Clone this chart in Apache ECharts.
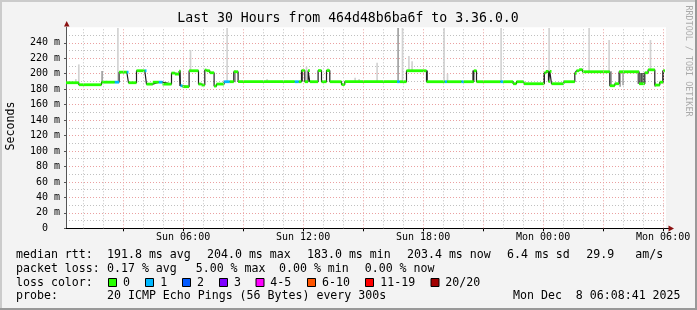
<!DOCTYPE html>
<html><head><meta charset="utf-8">
<script src="https://cdn.jsdelivr.net/npm/echarts@6/dist/echarts.min.js"></script>
<style>html,body{margin:0;padding:0;background:#f3f3f3}#c{width:697px;height:310px}</style>
</head><body><div id="c"></div>
<script>
// x values are hours since Sun 00:00
const tStart = 0.145, tEnd = 30.145, medEnd = 30.085;
const xLabelHours = [6, 12, 18, 24, 30];
const xLabelText = ['Sun 06:00', 'Sun 12:00', 'Sun 18:00', 'Mon 00:00', 'Mon 06:00'];
const majorHours = [3, 6, 9, 12, 15, 18, 21, 24, 27, 30];
const minorHours = [1, 2, 4, 5, 7, 8, 10, 11, 13, 14, 16, 17, 19, 20, 22, 23, 25, 26, 28, 29];

// median rtt (ms) step segments: start hour, value, loss level index
const medT = [0.145, 0.785, 1.92, 2.585, 2.8, 3.185, 3.27, 3.67, 4.085, 4.17,
  4.485, 4.785, 4.97, 5.42, 5.585, 5.8, 5.87, 5.97, 6.3, 6.77,
  6.92, 7.085, 7.17, 7.335, 7.55, 7.67, 8.05, 8.335, 8.535, 8.75,
  11.585, 11.785, 11.92, 12.085, 12.25, 12.335, 12.75, 12.92, 13.17, 13.335,
  13.92, 14.085, 16.7, 16.835, 17.17, 18.17, 19.085, 19.2, 19.92, 20.035,
  20.535, 20.67, 21.87, 22.0, 22.5, 22.67, 23.035, 24.06, 24.135, 24.27,
  24.335, 24.42, 25.035, 25.585, 25.67, 25.8, 25.97, 27.335, 27.585, 27.8,
  28.8, 29.085, 29.25, 29.585, 29.835, 30.0];
const medV = [188.3, 185.7, 189, 189, 202, 202, 188.3, 203.8, 203.8, 186.5,
  189, 189, 186.5, 200.8, 199.5, 203.4, 184.4, 183.2, 203.8, 186.6,
  185.3, 204.7, 203.8, 201.2, 184, 186.6, 189.6, 189.6, 202.5, 189.6,
  189.6, 189.6, 204, 189.6, 204, 189.6, 204, 189.6, 204, 189.6,
  186, 189.6, 189.6, 189.6, 203.8, 189.6, 189.6, 189.6, 189.6, 189.6,
  203.8, 189.6, 189.6, 189.6, 187, 189.6, 187, 201, 203, 189.6,
  203, 187, 189.6, 200.4, 203.8, 205.2, 202.5, 184.4, 187, 202.5,
  187, 201.2, 205, 185.3, 189, 203.8];
const medLoss = [0,0,0,1,0,1,0,0,1,0,
  0,1,0,0,0,0,1,0,0,0,
  0,0,0,0,0,0,1,0,0,0,
  1,0,0,0,0,0,0,0,0,0,
  0,0,1,0,0,0,1,0,1,0,
  0,0,1,0,0,0,0,0,0,0,
  0,0,0,0,0,0,0,0,0,0,
  0,0,0,0,0,0];

// smoke (ping spread) per 5-minute step: hour, low, high, shade index
const smokeT  = [0.635, 0.785, 1.95, 2.17, 2.74, 5.85, 6.37, 8.2, 8.6, 10.2,
  11.2, 11.95, 12.17, 13.25, 14.6, 14.8, 15.2, 15.7, 16.25, 16.75,
  16.97, 17.29, 17.45, 18.2, 19.05, 19.22, 19.92, 20.5, 21.9, 24.05,
  24.3, 26.3, 27.3, 27.4, 27.85, 28.0, 28.75, 28.9, 29.0, 29.37,
  29.6, 30.0];
const smokeLo = [188, 188, 189, 189, 189, 184, 204, 189, 189, 189,
  189, 190, 190, 204, 189, 189, 189, 189, 189, 189,
  189, 204, 204, 190, 189, 189, 189, 190, 189, 187,
  189, 203, 203, 183, 183, 185, 187, 187, 187, 205,
  183, 189];
const smokeHi = [193, 212, 203.4, 191, 259, 204, 230.6, 259, 204, 193,
  191, 204, 209, 207, 194.8, 193, 191, 214, 191, 259,
  259, 223, 216, 204, 259, 200, 191, 204, 259, 201,
  259, 259, 243.5, 203, 203, 202.5, 202.5, 201, 201, 243.5,
  189, 204];
const smokeShade = [0, 0, 1, 0, 0, 2, 0, 0, 1, 0,
  0, 2, 0, 0, 0, 0, 0, 0, 0, 1,
  0, 0, 0, 2, 0, 0, 0, 2, 0, 2,
  0, 0, 0, 1, 1, 1, 1, 2, 2, 0,
  1, 2];

const yMax = 260;
const lossColors = ['#26ff00', '#00b8ff', '#0059ff', '#7e00ff', '#ff00ff', '#ff5500', '#ff0000', '#a10000'];
const lossLabels = ['0', '1', '2', '3', '4-5', '6-10', '11-19', '20/20'];
const rttStats = ['191.8 ms avg', '204.0 ms max', '183.0 ms min', '203.4 ms now', '6.4 ms sd', '29.9', 'am/s'];
const lossStats = ['0.17 % avg', '5.00 % max', '0.00 % min', '0.00 % now'];
const probeText = '20 ICMP Echo Pings (56 Bytes) every 300s';
const stampText = 'Mon Dec  8 06:08:41 2025';
const titleText = 'Last 30 Hours from 464d48b6ba6f to 3.36.0.0';

const FONT = 'DejaVu Sans Mono';
const smokeColors = ['#d2d2d2', '#a0a0a0', '#444444'];
const stepH = 1 / 12;

const medData = medT.map((t, i) => [t, medV[i]]);
medData.push([medEnd, medV[medV.length - 1]]);
const bandData = medT.map((t, i) => [t, i + 1 < medT.length ? medT[i + 1] : medEnd, medV[i], medLoss[i]]);
const smokeData = smokeT.map((t, i) => [t, smokeLo[i], smokeHi[i], smokeShade[i]]);

function txt(x, y, s, size, extra) {
  return Object.assign({
    type: 'text', x: x, y: y, silent: true,
    style: Object.assign({
      text: s, fill: '#000', fontSize: size, fontFamily: FONT,
      align: 'left', verticalAlign: 'middle', textAlign: 'left', textVerticalAlign: 'middle'
    }, (extra && extra.style) || {})
  }, (extra && extra.el) || {});
}

const graphics = [];
// frame shading
graphics.push({type: 'rect', shape: {x: 0, y: 0, width: 697, height: 2}, style: {fill: '#cbcbcb'}, silent: true});
graphics.push({type: 'rect', shape: {x: 0, y: 0, width: 2, height: 310}, style: {fill: '#cbcbcb'}, silent: true});
graphics.push({type: 'rect', shape: {x: 695, y: 0, width: 2, height: 310}, style: {fill: '#999999'}, silent: true});
graphics.push({type: 'rect', shape: {x: 0, y: 308, width: 697, height: 2}, style: {fill: '#999999'}, silent: true});
// title
graphics.push(txt(348, 19, titleText, 13.2, {style: {align: 'center', textAlign: 'center'}}));
// y name
graphics.push(txt(10.5, 126, 'Seconds', 11.6, {style: {align: 'center', textAlign: 'center'}, el: {rotation: Math.PI / 2}}));
// watermark
graphics.push(txt(688, 61, 'RRDTOOL / TOBI OETIKER', 8.4, {style: {align: 'center', textAlign: 'center', fill: '#aaaaaa'}, el: {rotation: -Math.PI / 2}}));
// arrows
graphics.push({type: 'polygon', shape: {points: [[64, 26.5], [69.5, 26.5], [66.7, 21]]}, style: {fill: '#8b1111'}, silent: true, z: 10});
graphics.push({type: 'line', shape: {x1: 666, y1: 228.5, x2: 669, y2: 228.5}, style: {stroke: '#000', lineWidth: 1}, silent: true});
graphics.push({type: 'polygon', shape: {points: [[668.5, 225.5], [668.5, 231.5], [674, 228.5]]}, style: {fill: '#8b1111'}, silent: true, z: 10});
// legend lines
const L1 = 255, L2 = 268.5, L3 = 282.5, L4 = 296;
graphics.push(txt(16, L1, 'median rtt:', 11.6));
const rttX = [107, 207, 307, 407, 507, 586.3, 635.3];
rttStats.forEach((s, i) => graphics.push(txt(rttX[i], L1, s, 11.6)));
graphics.push(txt(16, L2, 'packet loss:', 11.6));
const lossX = [107, 195.7, 279, 364.7];
lossStats.forEach((s, i) => graphics.push(txt(lossX[i], L2, s, 11.6)));
graphics.push(txt(16, L3, 'loss color:', 11.6));
const boxX = [108.5, 145.5, 182.5, 219.5, 256, 307.5, 365.5, 431];
const lblX = [123, 160.3, 197, 234, 270.3, 322, 380.3, 445.3];
lossColors.forEach((c, i) => {
  graphics.push({type: 'rect', shape: {x: boxX[i], y: L3 - 4, width: 8, height: 8}, style: {fill: c, stroke: '#000', lineWidth: 1}, silent: true});
  graphics.push(txt(lblX[i], L3, lossLabels[i], 11.6));
});
graphics.push(txt(16, L4, 'probe:', 11.6));
graphics.push(txt(107, L4, probeText, 11.6));
graphics.push(txt(513, L4, stampText, 11.6));

const chart = echarts.init(document.getElementById('c'), null, {renderer: 'canvas', width: 697, height: 310});
chart.setOption({
  animation: false,
  backgroundColor: '#f3f3f3',
  grid: {left: 66, top: 27.3, width: 600, height: 201, show: true, backgroundColor: '#ffffff', borderWidth: 0},
  xAxis: {
    type: 'value', min: tStart, max: tEnd,
    axisLine: {show: true, onZero: false, lineStyle: {color: '#000', width: 1}},
    axisTick: {show: true, customValues: majorHours, length: 3, lineStyle: {color: '#000'}},
    splitLine: {show: false},
    axisLabel: {
      customValues: xLabelHours, margin: 4, color: '#000', fontFamily: FONT, fontSize: 10,
      formatter: v => xLabelText[xLabelHours.indexOf(Math.round(v))] || ''
    }
  },
  yAxis: {
    type: 'value', min: 0, max: yMax, interval: 20,
    axisLine: {show: true, lineStyle: {color: '#555', width: 1}},
    axisTick: {show: true, length: 2, lineStyle: {color: '#555'}},
    axisLabel: {
      margin: 6, color: '#000', fontFamily: FONT, fontSize: 10, showMaxLabel: false,
      formatter: v => v === 0 ? '0  ' : (v >= yMax ? '' : v + ' m')
    },
    splitLine: {show: true, showMaxLine: false, showMinLine: false, lineStyle: {color: '#eaa0a0', type: [1, 2], width: 1}},
    minorTick: {show: false, splitNumber: 2},
    minorSplitLine: {show: true, lineStyle: {color: '#c0c0c0', type: [1, 2], width: 1}}
  },
  graphic: graphics,
  series: [
    {
      type: 'line', data: [], z: 1, silent: true,
      markLine: {
        silent: true, symbol: ['none', 'none'], label: {show: false}, animation: false,
        data: minorHours.map(h => ({xAxis: h, lineStyle: {color: '#c0c0c0', type: [1, 2], width: 1}}))
          .concat(majorHours.map(h => ({xAxis: h, lineStyle: {color: '#eaa0a0', type: [1, 2], width: 1}})))
      }
    },
    {
      type: 'custom', z: 2, silent: true, data: smokeData, encode: {x: 0, y: [1, 2]},
      renderItem: (params, api) => {
        const t = api.value(0);
        const a = api.coord([t - stepH / 2, api.value(2)]);
        const b = api.coord([t + stepH / 2, api.value(1)]);
        return {type: 'rect', shape: {x: a[0], y: a[1], width: b[0] - a[0], height: b[1] - a[1]},
          style: {fill: smokeColors[api.value(3)]}};
      }
    },
    {
      type: 'line', z: 3, silent: true, step: 'end', data: medData, symbol: 'none',
      lineStyle: {color: '#202020', width: 1.2}
    },
    {
      type: 'custom', z: 4, silent: true, data: bandData, encode: {x: [0, 1], y: 2},
      renderItem: (params, api) => {
        const a = api.coord([api.value(0), api.value(2)]);
        const b = api.coord([api.value(1), api.value(2)]);
        return {type: 'rect', shape: {x: a[0], y: a[1] - 1.4, width: b[0] - a[0], height: 2.8},
          style: {fill: lossColors[api.value(3)]}};
      }
    }
  ]
});
</script>
</body></html>
